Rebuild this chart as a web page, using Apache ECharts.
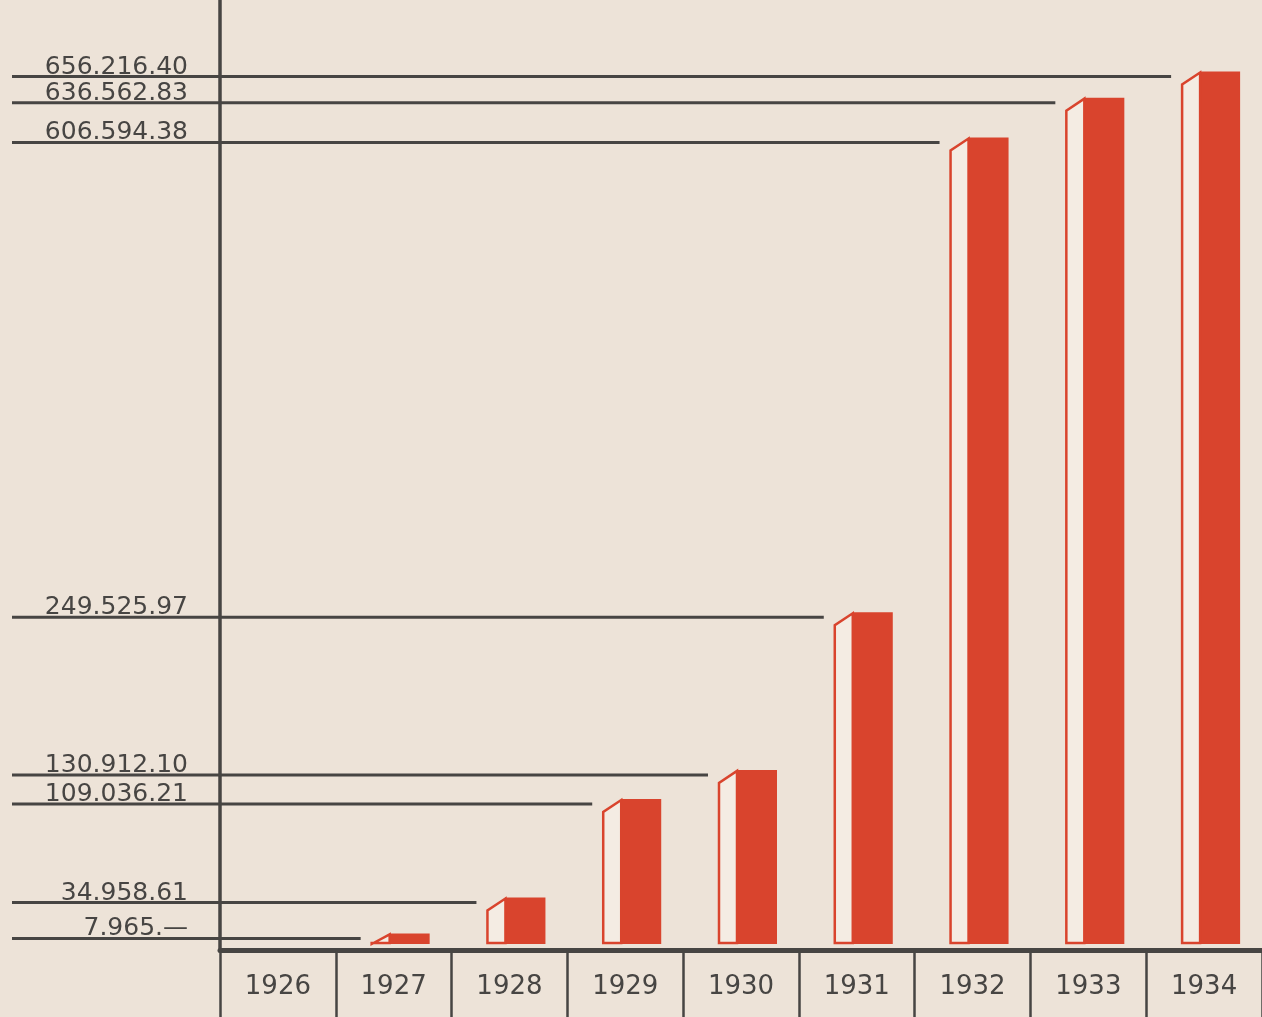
<!DOCTYPE html>
<html>
<head>
<meta charset="utf-8">
<script src="https://cdn.jsdelivr.net/npm/echarts@6/dist/echarts.min.js"></script>
<style>
  html, body { margin: 0; padding: 0; background: #ede3d8; }
  #main { width: 1262px; height: 1017px; }
</style>
</head>
<body>
<div id="main"></div>
<script>
// lata i stan funduszu (zł)
var years = ['1926', '1927', '1928', '1929', '1930', '1931', '1932', '1933', '1934']
var amounts = [0, 7965, 34958.61, 109036.21, 130912.10, 249525.97, 606594.38, 636562.83, 656216.40]
var amountLabels = ['', '7.965.\u2014', '34.958.61', '109.036.21', '130.912.10', '249.525.97', '606.594.38', '636.562.83', '656.216.40']

var red = '#d9442d'
var ink = '#474543'
var paper = '#ede3d8'

var myChart = echarts.init(document.getElementById('main'))

function renderBar (params, api) {
  var i = api.value(0)
  var v = api.value(1)
  if (!v) return null
  var base = api.coord([i, 0])
  var top = api.coord([i, v])[1]
  var cx = base[0]
  var bottom = base[1]
  var h = bottom - top
  var xl = cx - 23
  var xm = cx - 4
  var xr = cx + 36
  var drop = Math.min(13, h)
  var lineY = top + 5
  return {
    type: 'group',
    children: [
      {
        type: 'line',
        shape: { x1: 12, y1: lineY, x2: xl - 10, y2: lineY },
        style: { stroke: ink, lineWidth: 3 }
      },
      {
        type: 'text',
        style: {
          text: amountLabels[i],
          x: 188,
          y: lineY + 3,
          align: 'right',
          verticalAlign: 'bottom',
          font: '25px "DejaVu Sans"',
          fill: ink
        }
      },
      {
        type: 'rect',
        shape: { x: xm, y: top, width: xr - xm, height: h },
        style: { fill: red }
      },
      {
        type: 'polygon',
        shape: { points: [[xl + 1, bottom - 1], [xl + 1, top + drop], [xm, top + 1], [xm, bottom - 1]] },
        style: { fill: '#f4ece3', stroke: red, lineWidth: 2.5 }
      }
    ]
  }
}

var option = {
  backgroundColor: paper,
  animation: false,
  grid: { left: 220, right: 0, top: 0, bottom: 67 },
  xAxis: {
    type: 'category',
    data: years,
    axisLine: { onZero: false, lineStyle: { color: ink, width: 5 } },
    axisTick: { show: true, interval: 0, length: 80, lineStyle: { color: ink, width: 2.5 } },
    axisLabel: { color: ink, fontSize: 26, fontFamily: 'DejaVu Sans', margin: 24 }
  },
  yAxis: {
    type: 'value',
    min: -4500,
    max: 710000,
    axisLine: { show: true, lineStyle: { color: ink, width: 3.5 } },
    axisTick: { show: false },
    axisLabel: { show: false },
    splitLine: { show: false }
  },
  series: [
    {
      type: 'custom',
      renderItem: renderBar,
      clip: false,
      data: amounts.map(function (v, i) { return [i, v] })
    }
  ]
}
myChart.setOption(option)
</script>
</body>
</html>
